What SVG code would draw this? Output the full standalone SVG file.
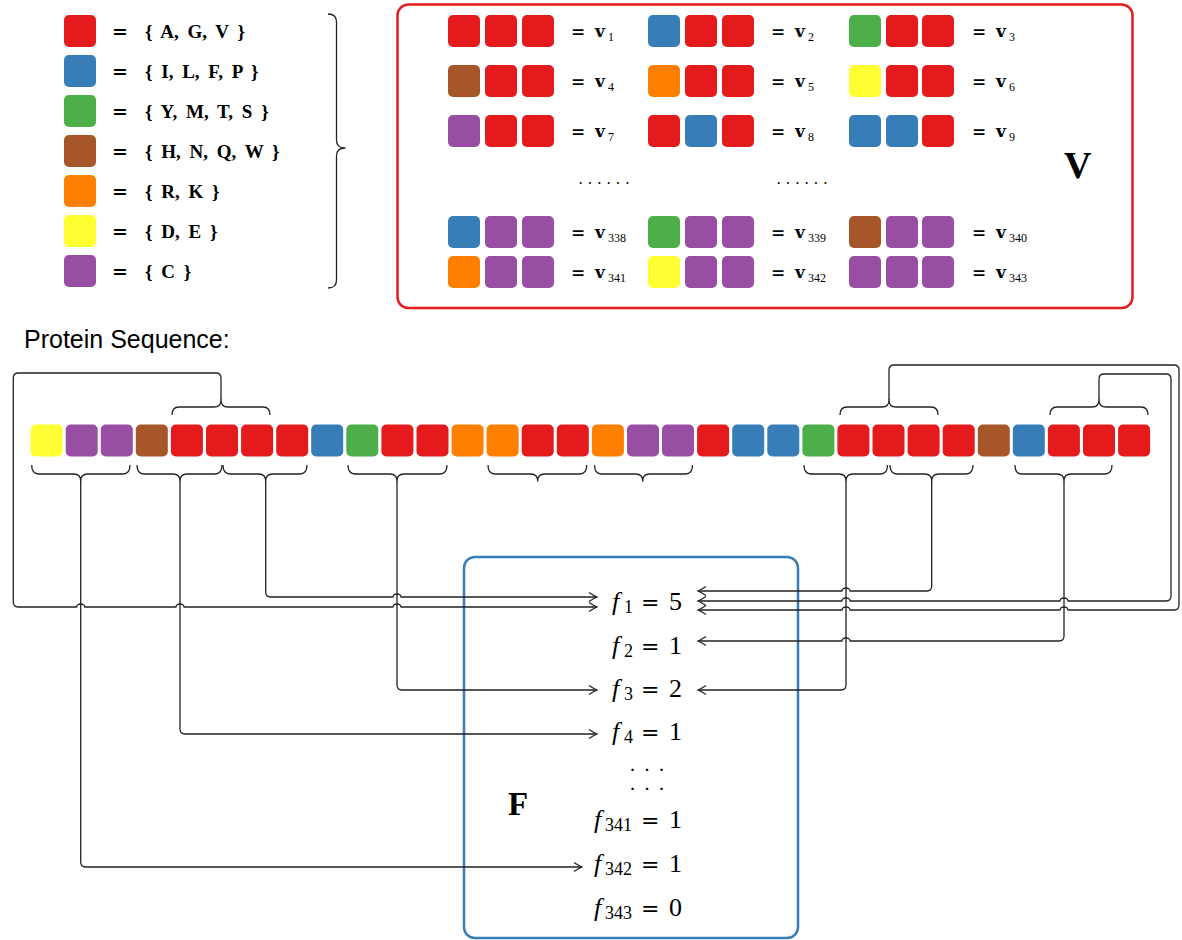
<svg xmlns="http://www.w3.org/2000/svg" width="1182" height="940" viewBox="0 0 1182 940">
<defs>
<style>
.R{fill:#E41A1C}.B{fill:#377EB8}.G{fill:#4DAF4A}.N{fill:#A65628}.O{fill:#FF7F00}.Y{fill:#FFFF33}.P{fill:#984EA3}
.ln{fill:none;stroke:#222;stroke-width:1.3;stroke-linejoin:round}
.arr{marker-end:url(#ah)}
.lt{font-family:"Liberation Serif",serif;font-weight:bold;font-size:19px;word-spacing:4px;fill:#000}
.eq{font-family:"DejaVu Serif",serif;font-weight:bold}
.vl{font-family:"DejaVu Serif",serif;font-weight:bold;font-size:17px;fill:#000}
.vs{font-family:"Liberation Serif",serif;font-weight:normal;font-size:12px}
.fm{font-family:"Liberation Serif",serif;font-size:26px;fill:#000}
.fi{font-style:italic}
.fs{font-size:18px}
.fe{font-family:"DejaVu Serif",serif;font-size:22px}
.dots{font-family:"Liberation Serif",serif;fill:#000}
.fd{font-family:"Liberation Serif",serif;font-size:15px;letter-spacing:9.5px;font-weight:bold;fill:#000}
</style>
<marker id="ah" viewBox="-10 -6 12 12" refX="0" refY="0" markerWidth="12" markerHeight="12" markerUnits="userSpaceOnUse" orient="auto">
<path d="M -8 -4.5 Q -3 -1.2 0 0 Q -3 1.2 -8 4.5" fill="none" stroke="#222" stroke-width="1.3"/>
</marker>
</defs>
<rect width="1182" height="940" fill="#fff"/>

<g id="legend">
<g id="legend-cells">
<rect class="R" x="64" y="15" width="32" height="32" rx="5"/>
<rect class="B" x="64" y="55" width="32" height="32" rx="5"/>
<rect class="G" x="64" y="95" width="32" height="32" rx="5"/>
<rect class="N" x="64" y="135" width="32" height="32" rx="5"/>
<rect class="O" x="64" y="175" width="32" height="32" rx="5"/>
<rect class="Y" x="64" y="215" width="32" height="32" rx="5"/>
<rect class="P" x="64" y="255" width="32" height="32" rx="5"/>
</g>
<text class="lt" y="38"><tspan class="eq" x="112">=</tspan><tspan x="145">{ A, G, V }</tspan></text>
<text class="lt" y="78"><tspan class="eq" x="112">=</tspan><tspan x="145">{ I, L, F, P }</tspan></text>
<text class="lt" y="118"><tspan class="eq" x="112">=</tspan><tspan x="145">{ Y, M, T, S }</tspan></text>
<text class="lt" y="158"><tspan class="eq" x="112">=</tspan><tspan x="145">{ H, N, Q, W }</tspan></text>
<text class="lt" y="198"><tspan class="eq" x="112">=</tspan><tspan x="145">{ R, K }</tspan></text>
<text class="lt" y="238"><tspan class="eq" x="112">=</tspan><tspan x="145">{ D, E }</tspan></text>
<text class="lt" y="278"><tspan class="eq" x="112">=</tspan><tspan x="145">{ C }</tspan></text>
<path class="ln" d="M 328 14 Q 336.5 14 336.5 22 V 140 Q 336.5 148 345 148 Q 336.5 148 336.5 156 V 280 Q 336.5 288 328 288"/>
</g>

<g id="vocab-V">
<rect x="397.5" y="4.5" width="735" height="303.5" rx="11" fill="none" stroke="#E41A1C" stroke-width="2.5"/>
<g id="v-row1">
<rect class="R" x="448" y="15" width="32" height="32" rx="5"/><rect class="R" x="485" y="15" width="32" height="32" rx="5"/><rect class="R" x="522" y="15" width="32" height="32" rx="5"/>
<rect class="B" x="648" y="15" width="32" height="32" rx="5"/><rect class="R" x="685" y="15" width="32" height="32" rx="5"/><rect class="R" x="722" y="15" width="32" height="32" rx="5"/>
<rect class="G" x="849" y="15" width="32" height="32" rx="5"/><rect class="R" x="886" y="15" width="32" height="32" rx="5"/><rect class="R" x="922" y="15" width="32" height="32" rx="5"/>
</g>
<g id="v-row2">
<rect class="N" x="448" y="65" width="32" height="32" rx="5"/><rect class="R" x="485" y="65" width="32" height="32" rx="5"/><rect class="R" x="522" y="65" width="32" height="32" rx="5"/>
<rect class="O" x="648" y="65" width="32" height="32" rx="5"/><rect class="R" x="685" y="65" width="32" height="32" rx="5"/><rect class="R" x="722" y="65" width="32" height="32" rx="5"/>
<rect class="Y" x="849" y="65" width="32" height="32" rx="5"/><rect class="R" x="886" y="65" width="32" height="32" rx="5"/><rect class="R" x="922" y="65" width="32" height="32" rx="5"/>
</g>
<g id="v-row3">
<rect class="P" x="448" y="115" width="32" height="32" rx="5"/><rect class="R" x="485" y="115" width="32" height="32" rx="5"/><rect class="R" x="522" y="115" width="32" height="32" rx="5"/>
<rect class="R" x="648" y="115" width="32" height="32" rx="5"/><rect class="B" x="685" y="115" width="32" height="32" rx="5"/><rect class="R" x="722" y="115" width="32" height="32" rx="5"/>
<rect class="B" x="849" y="115" width="32" height="32" rx="5"/><rect class="B" x="886" y="115" width="32" height="32" rx="5"/><rect class="R" x="922" y="115" width="32" height="32" rx="5"/>
</g>
<g id="v-row4">
<rect class="B" x="448" y="216" width="32" height="32" rx="5"/><rect class="P" x="485" y="216" width="32" height="32" rx="5"/><rect class="P" x="522" y="216" width="32" height="32" rx="5"/>
<rect class="G" x="648" y="216" width="32" height="32" rx="5"/><rect class="P" x="685" y="216" width="32" height="32" rx="5"/><rect class="P" x="722" y="216" width="32" height="32" rx="5"/>
<rect class="N" x="849" y="216" width="32" height="32" rx="5"/><rect class="P" x="886" y="216" width="32" height="32" rx="5"/><rect class="P" x="922" y="216" width="32" height="32" rx="5"/>
</g>
<g id="v-row5">
<rect class="O" x="448" y="256" width="32" height="32" rx="5"/><rect class="P" x="485" y="256" width="32" height="32" rx="5"/><rect class="P" x="522" y="256" width="32" height="32" rx="5"/>
<rect class="Y" x="648" y="256" width="32" height="32" rx="5"/><rect class="P" x="685" y="256" width="32" height="32" rx="5"/><rect class="P" x="722" y="256" width="32" height="32" rx="5"/>
<rect class="P" x="849" y="256" width="32" height="32" rx="5"/><rect class="P" x="886" y="256" width="32" height="32" rx="5"/><rect class="P" x="922" y="256" width="32" height="32" rx="5"/>
</g>
<text class="vl" y="37"><tspan x="571">=</tspan><tspan x="595">v</tspan><tspan class="vs" x="608" dy="4">1</tspan></text>
<text class="vl" y="37"><tspan x="771">=</tspan><tspan x="795">v</tspan><tspan class="vs" x="808" dy="4">2</tspan></text>
<text class="vl" y="37"><tspan x="972">=</tspan><tspan x="996">v</tspan><tspan class="vs" x="1009" dy="4">3</tspan></text>
<text class="vl" y="87"><tspan x="571">=</tspan><tspan x="595">v</tspan><tspan class="vs" x="608" dy="4">4</tspan></text>
<text class="vl" y="87"><tspan x="771">=</tspan><tspan x="795">v</tspan><tspan class="vs" x="808" dy="4">5</tspan></text>
<text class="vl" y="87"><tspan x="972">=</tspan><tspan x="996">v</tspan><tspan class="vs" x="1009" dy="4">6</tspan></text>
<text class="vl" y="137"><tspan x="571">=</tspan><tspan x="595">v</tspan><tspan class="vs" x="608" dy="4">7</tspan></text>
<text class="vl" y="137"><tspan x="771">=</tspan><tspan x="795">v</tspan><tspan class="vs" x="808" dy="4">8</tspan></text>
<text class="vl" y="137"><tspan x="972">=</tspan><tspan x="996">v</tspan><tspan class="vs" x="1009" dy="4">9</tspan></text>
<text class="vl" y="238"><tspan x="571">=</tspan><tspan x="595">v</tspan><tspan class="vs" x="608" dy="4">338</tspan></text>
<text class="vl" y="238"><tspan x="771">=</tspan><tspan x="795">v</tspan><tspan class="vs" x="808" dy="4">339</tspan></text>
<text class="vl" y="238"><tspan x="972">=</tspan><tspan x="996">v</tspan><tspan class="vs" x="1009" dy="4">340</tspan></text>
<text class="vl" y="278"><tspan x="571">=</tspan><tspan x="595">v</tspan><tspan class="vs" x="608" dy="4">341</tspan></text>
<text class="vl" y="278"><tspan x="771">=</tspan><tspan x="795">v</tspan><tspan class="vs" x="808" dy="4">342</tspan></text>
<text class="vl" y="278"><tspan x="972">=</tspan><tspan x="996">v</tspan><tspan class="vs" x="1009" dy="4">343</tspan></text>
<text class="dots" font-size="16" y="189"><tspan x="578">· · ·</tspan><tspan x="606">· · ·</tspan></text>
<text class="dots" font-size="16" y="189"><tspan x="776">· · ·</tspan><tspan x="804">· · ·</tspan></text>
<text x="1064" y="178" font-family="Liberation Serif, serif" font-weight="bold" font-size="38">V</text>
</g>

<text id="title" x="24" y="348" font-family="Liberation Sans, Arial, sans-serif" font-size="25" fill="#000">Protein Sequence:</text>

<g id="sequence">
<rect class="Y" x="30.6" y="424.5" width="32" height="32" rx="5"/>
<rect class="P" x="65.7" y="424.5" width="32" height="32" rx="5"/>
<rect class="P" x="100.8" y="424.5" width="32" height="32" rx="5"/>
<rect class="N" x="135.8" y="424.5" width="32" height="32" rx="5"/>
<rect class="R" x="170.9" y="424.5" width="32" height="32" rx="5"/>
<rect class="R" x="206.0" y="424.5" width="32" height="32" rx="5"/>
<rect class="R" x="241.1" y="424.5" width="32" height="32" rx="5"/>
<rect class="R" x="276.2" y="424.5" width="32" height="32" rx="5"/>
<rect class="B" x="311.2" y="424.5" width="32" height="32" rx="5"/>
<rect class="G" x="346.3" y="424.5" width="32" height="32" rx="5"/>
<rect class="R" x="381.4" y="424.5" width="32" height="32" rx="5"/>
<rect class="R" x="416.5" y="424.5" width="32" height="32" rx="5"/>
<rect class="O" x="451.6" y="424.5" width="32" height="32" rx="5"/>
<rect class="O" x="486.6" y="424.5" width="32" height="32" rx="5"/>
<rect class="R" x="521.7" y="424.5" width="32" height="32" rx="5"/>
<rect class="R" x="556.8" y="424.5" width="32" height="32" rx="5"/>
<rect class="O" x="591.9" y="424.5" width="32" height="32" rx="5"/>
<rect class="P" x="627.0" y="424.5" width="32" height="32" rx="5"/>
<rect class="P" x="662.0" y="424.5" width="32" height="32" rx="5"/>
<rect class="R" x="697.1" y="424.5" width="32" height="32" rx="5"/>
<rect class="B" x="732.2" y="424.5" width="32" height="32" rx="5"/>
<rect class="B" x="767.3" y="424.5" width="32" height="32" rx="5"/>
<rect class="G" x="802.4" y="424.5" width="32" height="32" rx="5"/>
<rect class="R" x="837.4" y="424.5" width="32" height="32" rx="5"/>
<rect class="R" x="872.5" y="424.5" width="32" height="32" rx="5"/>
<rect class="R" x="907.6" y="424.5" width="32" height="32" rx="5"/>
<rect class="R" x="942.7" y="424.5" width="32" height="32" rx="5"/>
<rect class="N" x="977.8" y="424.5" width="32" height="32" rx="5"/>
<rect class="B" x="1012.8" y="424.5" width="32" height="32" rx="5"/>
<rect class="R" x="1047.9" y="424.5" width="32" height="32" rx="5"/>
<rect class="R" x="1083.0" y="424.5" width="32" height="32" rx="5"/>
<rect class="R" x="1118.1" y="424.5" width="32" height="32" rx="5"/>
</g>

<g id="braces">
<path class="ln" d="M 31.7 465 Q 31.7 474 38.7 474 H 73.7 Q 80.7 474 80.7 481 Q 80.7 474 87.7 474 H 123 Q 130 474 130 465"/>
<path class="ln" d="M 137 465 Q 137 474 144 474 H 173 Q 180 474 180 481 Q 180 474 187 474 H 215 Q 222 474 222 465"/>
<path class="ln" d="M 223 465 Q 223 474 230 474 H 258.7 Q 265.7 474 265.7 481 Q 265.7 474 272.7 474 H 300 Q 307 474 307 465"/>
<path class="ln" d="M 348 465 Q 348 474 355 474 H 390 Q 397 474 397 481 Q 397 474 404 474 H 440 Q 447 474 447 465"/>
<path class="ln" d="M 488 465 Q 488 474 495 474 H 530.7 Q 537.7 474 537.7 481 Q 537.7 474 544.7 474 H 579.7 Q 586.7 474 586.7 465"/>
<path class="ln" d="M 594.5 465 Q 594.5 474 601.5 474 H 635.7 Q 642.7 474 642.7 481 Q 642.7 474 649.7 474 H 685.5 Q 692.5 474 692.5 465"/>
<path class="ln" d="M 804 465 Q 804 474 811 474 H 839 Q 846 474 846 481 Q 846 474 853 474 H 880.5 Q 887.5 474 887.5 465"/>
<path class="ln" d="M 890 465 Q 890 474 897 474 H 924.7 Q 931.7 474 931.7 481 Q 931.7 474 938.7 474 H 966 Q 973 474 973 465"/>
<path class="ln" d="M 1015 465 Q 1015 474 1022 474 H 1057 Q 1064 474 1064 481 Q 1064 474 1071 474 H 1105 Q 1112 474 1112 465"/>
<path class="ln" d="M 172 415 Q 172 407 179 407 H 214 Q 221 407 221 400 Q 221 407 228 407 H 263 Q 270 407 270 415"/>
<path class="ln" d="M 840 415 Q 840 407 847 407 H 882 Q 889 407 889 400 Q 889 407 896 407 H 931 Q 938 407 938 415"/>
<path class="ln" d="M 1050 415 Q 1050 407 1057 407 H 1092 Q 1099 407 1099 400 Q 1099 407 1106 407 H 1141 Q 1148 407 1148 415"/>
</g>

<g id="F-box">
<rect x="464" y="557" width="334" height="381" rx="11" fill="none" stroke="#377EB8" stroke-width="2.5"/>
<text x="508" y="815" font-family="Liberation Serif, serif" font-weight="bold" font-size="33" fill="#000">F</text>
<text class="fm" y="610"><tspan class="fi" x="612">f</tspan><tspan class="fs" x="624" dy="3">1</tspan><tspan class="fe" x="641" dy="-3">=</tspan><tspan x="669">5</tspan></text>
<text class="fm" y="653.5"><tspan class="fi" x="612">f</tspan><tspan class="fs" x="624" dy="3">2</tspan><tspan class="fe" x="641" dy="-3">=</tspan><tspan x="669">1</tspan></text>
<text class="fm" y="697"><tspan class="fi" x="612">f</tspan><tspan class="fs" x="624" dy="3">3</tspan><tspan class="fe" x="641" dy="-3">=</tspan><tspan x="669">2</tspan></text>
<text class="fm" y="740"><tspan class="fi" x="612">f</tspan><tspan class="fs" x="624" dy="3">4</tspan><tspan class="fe" x="641" dy="-3">=</tspan><tspan x="669">1</tspan></text>
<text class="fd" x="630" y="774.5">···</text>
<text class="fd" x="630" y="793.5">···</text>
<text class="fm" y="828"><tspan class="fi" x="594">f</tspan><tspan class="fs" x="605" dy="3">341</tspan><tspan class="fe" x="641" dy="-3">=</tspan><tspan x="669">1</tspan></text>
<text class="fm" y="872"><tspan class="fi" x="594">f</tspan><tspan class="fs" x="605" dy="3">342</tspan><tspan class="fe" x="641" dy="-3">=</tspan><tspan x="669">1</tspan></text>
<text class="fm" y="916"><tspan class="fi" x="594">f</tspan><tspan class="fs" x="605" dy="3">343</tspan><tspan class="fe" x="641" dy="-3">=</tspan><tspan x="669">0</tspan></text>
</g>

<g id="connectors">
<path class="ln arr" d="M 221 400 V 378 Q 221 373 216 373 H 18.3 Q 13.3 373 13.3 378 V 602 Q 13.3 607 18.3 607 H 76.7 a 4 3 0 0 1 8 0 H 176 a 4 3 0 0 1 8 0 H 393 a 4 3 0 0 1 8 0 H 597"/>
<path class="ln arr" d="M 265.7 481 V 592 Q 265.7 597 270.7 597 H 393 a 4 3 0 0 1 8 0 H 597"/>
<path class="ln arr" d="M 397 481 V 685 Q 397 690 402 690 H 597"/>
<path class="ln arr" d="M 180 481 V 729 Q 180 734 185 734 H 597"/>
<path class="ln arr" d="M 80.7 481 V 862 Q 80.7 867 85.7 867 H 582"/>
<path class="ln arr" d="M 931.7 481 V 586 Q 931.7 591 926.7 591 H 850 a 4 3 0 0 0 -8 0 H 698"/>
<path class="ln arr" d="M 889 400 V 370 Q 889 365 894 365 H 1174 Q 1179 365 1179 370 V 605 Q 1179 610 1174 610 H 1068 a 4 3 0 0 0 -8 0 H 850 a 4 3 0 0 0 -8 0 H 698"/>
<path class="ln arr" d="M 1099 400 V 379 Q 1099 374 1104 374 H 1166 Q 1171 374 1171 379 V 596 Q 1171 601 1166 601 H 1068 a 4 3 0 0 0 -8 0 H 850 a 4 3 0 0 0 -8 0 H 698"/>
<path class="ln arr" d="M 1064 481 V 636 Q 1064 641 1059 641 H 850 a 4 3 0 0 0 -8 0 H 698"/>
<path class="ln arr" d="M 846 481 V 685 Q 846 690 841 690 H 698"/>
</g>
</svg>
